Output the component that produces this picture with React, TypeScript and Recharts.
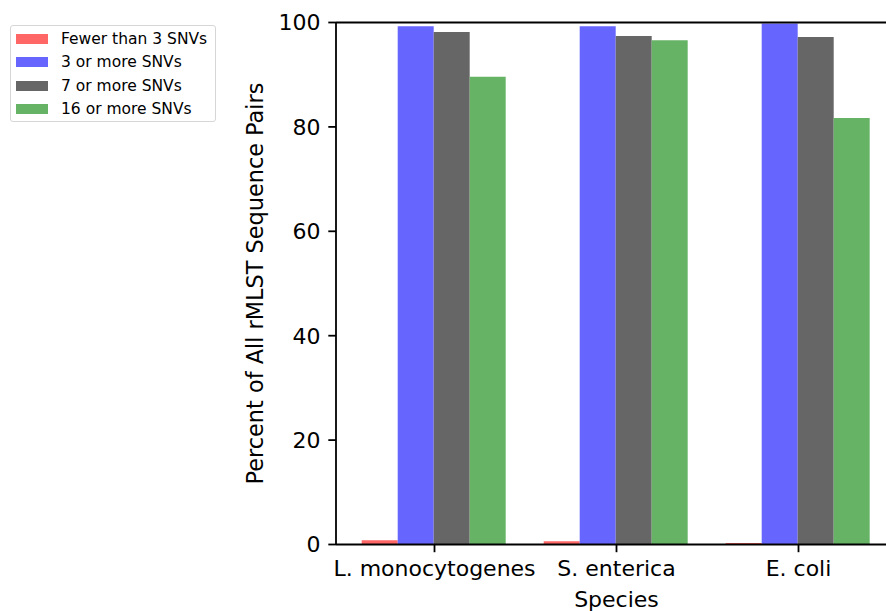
import { BarChart, Bar, XAxis, YAxis, ReferenceLine } from 'recharts'

const species = ['L. monocytogenes', 'S. enterica', 'E. coli']
const fewerThan3 = [0.8, 0.6, 0.3]
const atLeast3 = [99.3, 99.3, 99.8]
const atLeast7 = [98.2, 97.4, 97.2]
const atLeast16 = [89.6, 96.6, 81.7]
const yTicks = [0, 20, 40, 60, 80, 100]

const SERIES = [
  { key: 'fewer3', name: 'Fewer than 3 SNVs', color: '#ff6666' },
  { key: 'more3', name: '3 or more SNVs', color: '#6666ff' },
  { key: 'more7', name: '7 or more SNVs', color: '#666666' },
  { key: 'more16', name: '16 or more SNVs', color: '#66b366' },
]

const data = species.map((name, i) => ({
  name,
  fewer3: fewerThan3[i],
  more3: atLeast3[i],
  more7: atLeast7[i],
  more16: atLeast16[i],
}))

const FONT = '"DejaVu Sans", sans-serif'
const LW = 1.8

function YLabel() {
  return (
    <text x={263} y={283.5} transform="rotate(-90, 263, 283.5)" textAnchor="middle" fontSize={22.4} fontFamily={FONT} fill="#000">
      Percent of All rMLST Sequence Pairs
    </text>
  )
}

function XLabel() {
  return (
    <text x={616.5} y={607} textAnchor="middle" fontSize={22} fontFamily={FONT} fill="#000">
      Species
    </text>
  )
}

function LegendBox() {
  return (
    <div
      style={{
        position: 'absolute',
        left: 10,
        top: 25,
        width: 206,
        height: 97,
        border: '1px solid #d6d6d6',
        borderRadius: 3,
        background: '#fff',
        fontFamily: FONT,
        fontSize: 15.5,
        boxSizing: 'border-box',
        paddingTop: 1,
      }}
    >
      {SERIES.map((s) => (
        <div key={s.key} style={{ display: 'flex', alignItems: 'center', height: 23.5 }}>
          <div style={{ width: 32, height: 10, background: s.color, marginLeft: 5, marginRight: 13 }} />
          <span style={{ lineHeight: '18px' }}>{s.name}</span>
        </div>
      ))}
    </div>
  )
}

export default function App() {
  return (
    <div style={{ position: 'fixed', left: 0, top: 0, width: 886, height: 611, overflow: 'hidden', background: '#fff' }}>
      <BarChart
        width={920}
        height={611}
        data={data}
        margin={{ top: 22.5, right: 23, left: 276, bottom: 36.5 }}
        barCategoryGap="10%"
        barGap={0}
      >
        {SERIES.map((s) => (
          <Bar key={s.key} dataKey={s.key} name={s.name} fill={s.color} isAnimationActive={false} />
        ))}
        <ReferenceLine y={100} stroke="#000" strokeWidth={LW} />
        <XAxis
          dataKey="name"
          height={30}
          interval={0}
          padding={{ left: 7.5, right: 7.5 }}
          tickSize={7.7}
          tickMargin={8}
          axisLine={{ stroke: '#000', strokeWidth: LW }}
          tickLine={{ stroke: '#000', strokeWidth: LW }}
          tick={{ fontSize: 22, fill: '#000', fontFamily: FONT }}
          label={<XLabel />}
        />
        <YAxis
          width={60}
          domain={[0, 100]}
          ticks={yTicks}
          interval={0}
          tickSize={7.7}
          tickMargin={7.7}
          axisLine={{ stroke: '#000', strokeWidth: LW }}
          tickLine={{ stroke: '#000', strokeWidth: LW }}
          tick={{ fontSize: 22, fill: '#000', fontFamily: FONT }}
          label={<YLabel />}
        />
      </BarChart>
      <LegendBox />
    </div>
  )
}
